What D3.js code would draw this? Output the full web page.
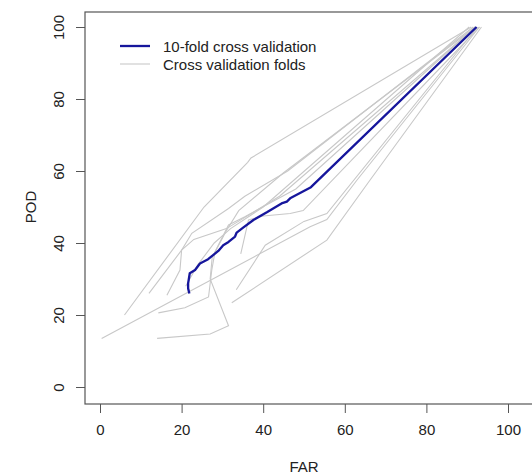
<!DOCTYPE html>
<html><head><meta charset="utf-8">
<script src="https://cdn.jsdelivr.net/npm/d3@7"></script>
<style>body{margin:0;background:#fff}svg{display:block}text{font-family:"Liberation Sans",Arial,sans-serif;fill:#222}</style>
</head><body><svg id="c" width="532" height="476"></svg>
<script>
const xTicks = [0, 20, 40, 60, 80, 100];
const yTicks = [0, 20, 40, 60, 80, 100];
const legendLabels = ["10-fold cross validation", "Cross validation folds"];
const xLabel = "FAR", yLabel = "POD";

const meanFAR = [21.9,21.6,21.6,22.0,23.3,24.5,26.5,27.8,29.0,30.2,31.5,33.1,33.5,35.0,37.6,41.0,44.5,45.8,46.6,51.7,92.3];
const meanPOD = [26.0,27.4,28.8,31.6,32.5,34.3,35.5,36.7,37.8,39.4,40.3,41.8,42.9,44.2,46.4,48.6,51.0,51.5,52.4,55.5,100];

const fold1FAR = [0.4,51.5,55.6,63.0,93.0];
const fold1POD = [13.5,44.5,46.5,57.5,100];
const fold2FAR = [33.4,40.5,50.0,55.6,92.5];
const fold2POD = [27.0,39.4,46.0,48.2,100];
const fold3FAR = [32.3,55.6,66.2,93.5];
const fold3POD = [23.4,40.8,57.5,100];
const fold4FAR = [14.0,27.0,31.5,27.0,27.5,31.0,34.0,45.0,92.0];
const fold4POD = [13.5,14.7,17.0,30.0,36.0,43.5,49.0,59.5,100];
const fold5FAR = [6.0,25.5,36.2,37.0,91.0];
const fold5POD = [20.0,50.0,62.4,63.6,100];
const fold6FAR = [16.4,19.6,20.0,22.5,31.5,35.5,46.0,91.5];
const fold6POD = [25.5,32.5,38.0,42.7,49.6,53.0,60.0,100];
const fold7FAR = [14.3,20.8,26.6,27.4,28.2,31.5,35.5,48.0,92.0];
const fold7POD = [20.6,22.0,25.0,32.5,37.6,45.0,47.3,55.0,100];
const fold8FAR = [34.5,36.4,40.0,46.6,49.8,93.0];
const fold8POD = [37.0,46.4,47.5,48.2,49.0,100];
const fold9FAR = [12.0,20.0,23.0,31.0,44.0,92.0];
const fold9POD = [26.0,38.0,41.0,44.0,53.0,100];
const fold10FAR = [21.0,24.0,28.0,32.0,40.0,90.5];
const fold10POD = [28.0,34.0,40.0,44.0,50.0,100];

const folds = [
  [fold1FAR, fold1POD],[fold2FAR, fold2POD],[fold3FAR, fold3POD],[fold4FAR, fold4POD],[fold5FAR, fold5POD],
  [fold6FAR, fold6POD],[fold7FAR, fold7POD],[fold8FAR, fold8POD],[fold9FAR, fold9POD],[fold10FAR, fold10POD]
];

const svg = d3.select("#c");
const x = d3.scaleLinear().domain([0, 100]).range([100, 508]);
const y = d3.scaleLinear().domain([0, 100]).range([387, 27]);
const box = {l: 85, r: 545, t: 12, b: 404};
const FS = 15;

const line = d3.line().x(d => x(d[0])).y(d => y(d[1]));
const zip = (a, b) => a.map((v, i) => [v, b[i]]);

const g = svg.append("g");
folds.forEach(f => {
  g.append("path").attr("d", line(zip(f[0], f[1])))
    .attr("fill", "none").attr("stroke", "#c8c8c8").attr("stroke-width", 1.1);
});
g.append("path").attr("d", line(zip(meanFAR, meanPOD)))
  .attr("fill", "none").attr("stroke", "#16169c").attr("stroke-width", 2.3)
  .attr("stroke-linejoin", "round");

svg.append("rect").attr("x", box.l).attr("y", box.t).attr("width", box.r - box.l).attr("height", box.b - box.t)
  .attr("fill", "none").attr("stroke", "#555").attr("stroke-width", 1.2);

const xa = svg.append("g").attr("transform", `translate(0,${box.b})`)
  .call(d3.axisBottom(x).tickValues(xTicks).tickSize(9).tickPadding(11).tickFormat(d3.format("d")));
xa.select(".domain").remove();
xa.selectAll("line").attr("stroke", "#555");
xa.selectAll("text").attr("font-size", FS).attr("fill", "#222").attr("font-family", "Liberation Sans, Arial, sans-serif");

const ya = svg.append("g").attr("transform", `translate(${box.l},0)`)
  .call(d3.axisLeft(y).tickValues(yTicks).tickSize(9).tickPadding(0).tickFormat(d3.format("d")));
ya.select(".domain").remove();
ya.selectAll("line").attr("stroke", "#555");
ya.selectAll("text").attr("font-size", FS).attr("fill", "#222").attr("font-family", "Liberation Sans, Arial, sans-serif")
  .attr("text-anchor", "middle").attr("dy", null).attr("x", null)
  .attr("transform", "translate(-27,0) rotate(-90)").attr("dominant-baseline", "central");

svg.append("text").attr("x", 304).attr("y", 466).attr("text-anchor", "middle")
  .attr("dominant-baseline", "central").attr("font-size", FS).text(xLabel);
svg.append("text").attr("transform", "translate(30,207) rotate(-90)").attr("text-anchor", "middle")
  .attr("dominant-baseline", "central").attr("font-size", FS).text(yLabel);

const lg = svg.append("g");
lg.append("line").attr("x1", 120).attr("x2", 150).attr("y1", 46).attr("y2", 46).attr("stroke", "#16169c").attr("stroke-width", 2.3);
lg.append("line").attr("x1", 120).attr("x2", 150).attr("y1", 64).attr("y2", 64).attr("stroke", "#c8c8c8").attr("stroke-width", 1.1);
lg.append("text").attr("x", 163).attr("y", 46).attr("dominant-baseline", "central").attr("font-size", FS).text(legendLabels[0]);
lg.append("text").attr("x", 163).attr("y", 64).attr("dominant-baseline", "central").attr("font-size", FS).text(legendLabels[1]);
</script></body></html>
